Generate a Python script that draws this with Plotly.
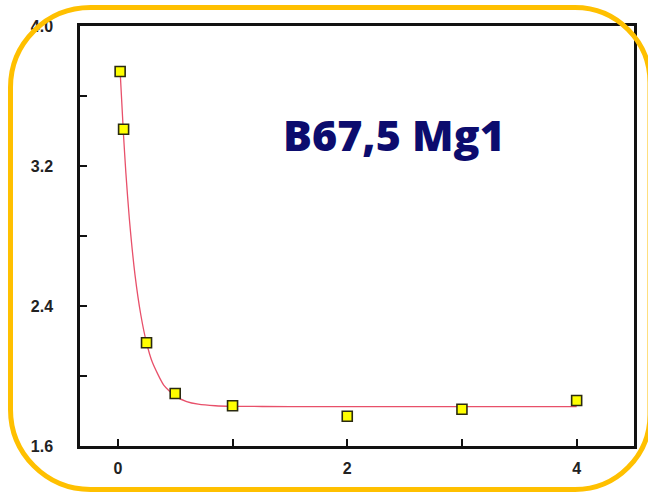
import plotly.graph_objects as go

# Measured points
x_obs = [0.02, 0.05, 0.25, 0.5, 1.0, 2.0, 3.0, 4.0]
y_obs = [3.74, 3.41, 2.19, 1.90, 1.83, 1.77, 1.81, 1.86]

# Fitted decay curve
fit_x = [0.02, 0.05, 0.07, 0.10, 0.15, 0.20, 0.25, 0.30, 0.40, 0.50, 0.60, 0.70, 0.85, 1.0, 1.5, 2.0, 3.0, 4.0]
fit_y = [3.74, 3.37, 3.16, 2.90, 2.575, 2.35, 2.19, 2.08, 1.948, 1.885, 1.854, 1.839, 1.830, 1.827, 1.825, 1.825, 1.825, 1.825]

# Axis ticks
y_ticks = [1.6, 2.0, 2.4, 2.8, 3.2, 3.6, 4.0]
y_tick_text = ["1.6", "", "2.4", "", "3.2", "", "4.0"]
x_ticks = [0, 1, 2, 3, 4]
x_tick_text = ["0", "", "2", "", "4"]

label = "B67,5 Mg1"

W, H = 648, 494
ML, MR, MT, MB = 80, 14, 26, 48
PW, PH = W - ML - MR, H - MT - MB


def px(x):
    return (x - ML) / PW


def py(y):
    return (H - MB - y) / PH


def rounded_rect(l, t, r, b, rl, rr):
    k = 0.5523
    pts = [
        f"M {px(l + rl)},{py(t)}",
        f"L {px(r - rr)},{py(t)}",
        f"C {px(r - rr + rr * k)},{py(t)} {px(r)},{py(t + rr - rr * k)} {px(r)},{py(t + rr)}",
        f"L {px(r)},{py(b - rr)}",
        f"C {px(r)},{py(b - rr + rr * k)} {px(r - rr + rr * k)},{py(b)} {px(r - rr)},{py(b)}",
        f"L {px(l + rl)},{py(b)}",
        f"C {px(l + rl - rl * k)},{py(b)} {px(l)},{py(b - rl + rl * k)} {px(l)},{py(b - rl)}",
        f"L {px(l)},{py(t + rl)}",
        f"C {px(l)},{py(t + rl - rl * k)} {px(l + rl - rl * k)},{py(t)} {px(l + rl)},{py(t)}",
        "Z",
    ]
    return " ".join(pts)


fig = go.Figure()
fig.add_trace(go.Scatter(
    x=fit_x, y=fit_y, mode="lines",
    line=dict(color="#e8506a", width=1.3, shape="spline", smoothing=0.6),
    hoverinfo="skip", showlegend=False,
))
fig.add_trace(go.Scatter(
    x=x_obs, y=y_obs, mode="markers",
    marker=dict(symbol="square", size=10, color="#ffff00",
                line=dict(color="#2a2a10", width=1.6)),
    showlegend=False,
))

axis_font = dict(family="Liberation Sans, Arial, sans-serif", size=16, color="#222222", weight="bold")

fig.update_xaxes(
    range=[-0.33, 4.5], tickvals=x_ticks, ticktext=x_tick_text,
    ticks="inside", ticklen=7, tickwidth=2, tickcolor="#111111",
    showline=True, linecolor="#111111", linewidth=2.5, mirror=True,
    showgrid=False, zeroline=False, tickfont=axis_font, ticklabelstandoff=6,
)
fig.update_yaxes(
    range=[1.6, 4.0], tickvals=y_ticks, ticktext=y_tick_text,
    ticks="inside", ticklen=7, tickwidth=2, tickcolor="#111111",
    showline=True, linecolor="#111111", linewidth=2.5, mirror=True,
    showgrid=False, zeroline=False, tickfont=axis_font, ticklabelstandoff=21,
)

fig.add_annotation(
    x=px(394), y=py(134), xref="paper", yref="paper",
    text=label, showarrow=False,
    xanchor="center", yanchor="middle",
    font=dict(family="Open Sans, Noto Sans, sans-serif", size=43, color="#0c0c6e", weight=800),
)

fig.add_shape(
    type="path", xref="paper", yref="paper", layer="above",
    path=rounded_rect(10.5, 7.5, 650, 489.5, 80, 75),
    line=dict(color="#ffc000", width=5),
)

fig.update_layout(
    width=W, height=H,
    margin=dict(l=ML, r=MR, t=MT, b=MB),
    paper_bgcolor="white", plot_bgcolor="white",
)

fig.write_html("out.html")
